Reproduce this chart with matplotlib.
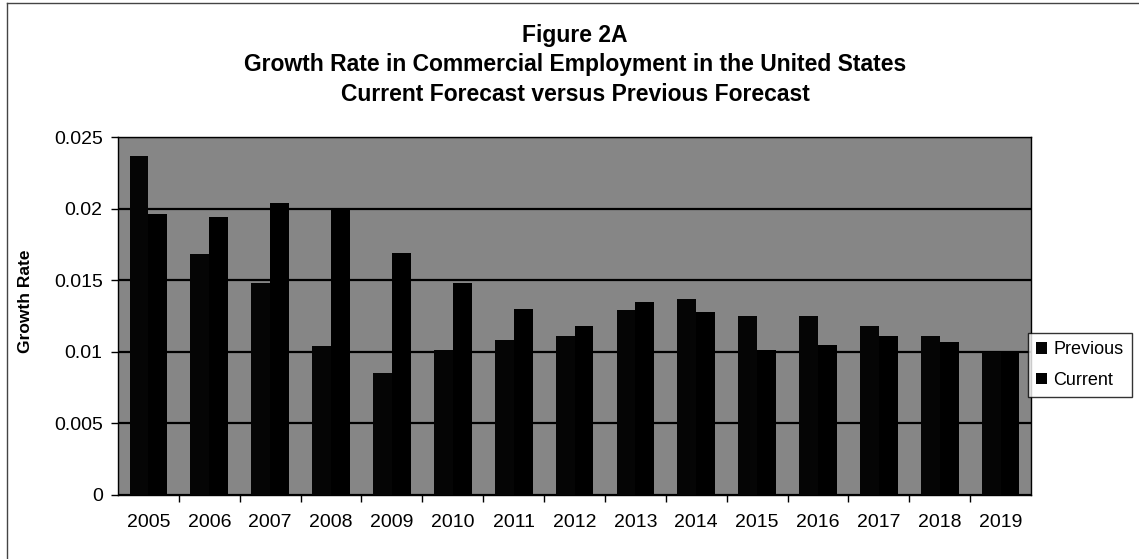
import matplotlib.pyplot as plt
import numpy as np

years = ['2005', '2006', '2007', '2008', '2009', '2010', '2011', '2012',
         '2013', '2014', '2015', '2016', '2017', '2018', '2019']
previous = [0.0237, 0.0168, 0.0148, 0.0104, 0.0085, 0.0101, 0.0108, 0.0111,
            0.0129, 0.0137, 0.0125, 0.0125, 0.0118, 0.0111, 0.0100]
current = [0.0196, 0.0194, 0.0204, 0.0200, 0.0169, 0.0148, 0.0130, 0.0118,
           0.0135, 0.0128, 0.0101, 0.0105, 0.0111, 0.0107, 0.0100]
yticks = [0, 0.005, 0.01, 0.015, 0.02, 0.025]
ylabels = ['0', '0.005', '0.01', '0.015', '0.02', '0.025']

plt.rcParams['font.family'] = ['Liberation Sans', 'DejaVu Sans']

fig = plt.figure(figsize=(11.39, 5.59), dpi=100)
ax = fig.add_axes([0.1036, 0.1145, 0.8016, 0.6404])

# frame lines along the top and left of the chart
fig.add_artist(plt.Line2D([0.006, 1.0], [0.995, 0.995], transform=fig.transFigure,
                          color='#444444', linewidth=1.0))
fig.add_artist(plt.Line2D([0.006, 0.006], [0.0, 0.995], transform=fig.transFigure,
                          color='#444444', linewidth=1.0))

x = np.arange(len(years))
w = 0.31
ax.set_facecolor('#868686')
ax.bar(x - w / 2, previous, w, color='#050505', label='Previous', zorder=3)
ax.bar(x + w / 2, current, w, color='#000000', label='Current', zorder=3)

ax.set_xlim(-0.5, len(years) - 0.5)
ax.set_ylim(0, 0.025)
ax.set_yticks(yticks)
ax.set_yticklabels(ylabels, fontsize=14)
ax.yaxis.grid(True, color='black', linewidth=1.6, zorder=1)
ax.set_axisbelow(True)

# category labels without marks, small marks between categories
ax.set_xticks(x)
ax.set_xticklabels(years, fontsize=14)
ax.tick_params(axis='x', length=0, pad=14)
ax.set_xticks(x[:-1] + 0.5, minor=True)
ax.tick_params(axis='x', which='minor', length=5, width=1, direction='out')
ax.tick_params(axis='y', length=5, width=1, direction='out', pad=6)

for s in ax.spines.values():
    s.set_color('black')
    s.set_linewidth(1.0)

ax.set_ylabel('Growth Rate', fontsize=12.5, fontweight='bold')
ax.yaxis.set_label_coords(-0.093, 0.542)

fig.text(0.505, 0.936, 'Figure 2A', ha='center', va='center',
         fontsize=16.5, fontweight='bold')
fig.text(0.505, 0.884, 'Growth Rate in Commercial Employment in the United States',
         ha='center', va='center', fontsize=16.5, fontweight='bold')
fig.text(0.505, 0.831, 'Current Forecast versus Previous Forecast',
         ha='center', va='center', fontsize=16.5, fontweight='bold')

leg = ax.legend(loc='center left', bbox_to_anchor=(0.997, 0.363), fontsize=13,
                frameon=True, fancybox=False, edgecolor='black',
                handlelength=0.6, handleheight=0.6, handletextpad=0.35,
                borderpad=0.45, labelspacing=0.75, borderaxespad=0)
leg.get_frame().set_linewidth(1.0)

fig.savefig('out.png', dpi=100)
